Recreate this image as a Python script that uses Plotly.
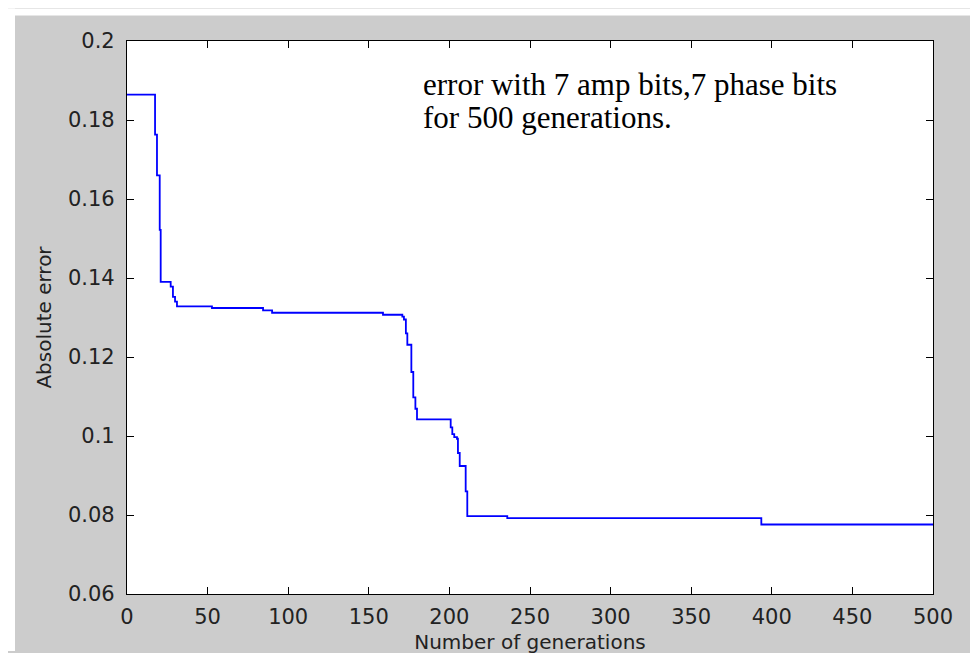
import plotly.graph_objects as go

# step changes of the best absolute error (generation, value)
generations = [0, 17.4, 18.6, 20.3, 20.9, 27.1, 28.5, 29.8, 31.0, 52.7, 84.4, 90.0,
               158.8, 170.8, 171.8, 173.0, 173.9, 176.4, 177.6, 178.9, 179.9,
               200.8, 201.8, 203.0, 204.7, 205.3, 206.4, 210.1, 211.1, 235.9,
               393.5, 500]
abs_error = [0.1864, 0.1763, 0.1660, 0.1522, 0.1390, 0.1378, 0.1352, 0.1340, 0.1328,
             0.1324, 0.1318, 0.1312, 0.1307, 0.1302, 0.1295, 0.1260, 0.1231, 0.1162,
             0.1098, 0.1069, 0.1042, 0.1022, 0.1005, 0.0997, 0.0993, 0.0957, 0.0924,
             0.0860, 0.0797, 0.0792, 0.0776, 0.0776]

x_ticks = [0, 50, 100, 150, 200, 250, 300, 350, 400, 450, 500]
y_ticks = [0.06, 0.08, 0.1, 0.12, 0.14, 0.16, 0.18, 0.2]
y_tick_text = ["0.06", "0.08", "0.1", "0.12", "0.14", "0.16", "0.18", "0.2"]
note_lines = ["error with 7 amp bits,7 phase bits", "for 500 generations."]

W, H = 978, 653
L, R, T, B = 119, 53, 33, 58
pw, ph = W - L - R, H - T - B

fig = go.Figure()
fig.add_trace(go.Scatter(x=generations, y=abs_error, mode="lines",
                         line=dict(color="#0000ff", width=1.8, shape="hv"),
                         showlegend=False))

axis_common = dict(showline=True, linecolor="black", linewidth=1.2, mirror="ticks",
                   ticks="inside", ticklen=7, tickwidth=1, tickcolor="black",
                   showgrid=False, zeroline=False,
                   tickfont=dict(family="DejaVu Sans", size=21, color="#222222"))

fig.update_xaxes(range=[0, 500], tickvals=x_ticks, ticklabelstandoff=4,
                 title=dict(text="Number of generations", standoff=6,
                            font=dict(family="DejaVu Sans", size=20, color="#222222")),
                 **axis_common)
fig.update_yaxes(range=[0.06, 0.2], tickvals=y_ticks, ticktext=y_tick_text,
                 ticklabelstandoff=7,
                 title=dict(text="Absolute error", standoff=10,
                            font=dict(family="DejaVu Sans", size=20, color="#222222")),
                 **axis_common)

for line_text, centre_y in zip(note_lines, [77, 111]):
    fig.add_annotation(xref="paper", yref="paper", x=(413 - L) / pw,
                       y=(H - B - centre_y) / ph,
                       xanchor="left", yanchor="middle", align="left", showarrow=False,
                       text=line_text,
                       font=dict(family="Liberation Serif", size=31, color="black"))

# white border strips at the left and top of the picture
fig.add_shape(type="rect", xref="paper", yref="paper", x0=-L / pw, x1=(7 - L) / pw,
              y0=-B / ph, y1=(H - B) / ph, fillcolor="white", line_width=0, layer="below")
fig.add_shape(type="rect", xref="paper", yref="paper", x0=-L / pw, x1=(W - L) / pw,
              y0=(H - B - 7) / ph, y1=(H - B) / ph, fillcolor="white", line_width=0,
              layer="below")

fig.update_layout(width=W, height=H, margin=dict(l=L, r=R, t=T, b=B),
                  paper_bgcolor="#cccccc", plot_bgcolor="white")

fig.write_html("out.html")
